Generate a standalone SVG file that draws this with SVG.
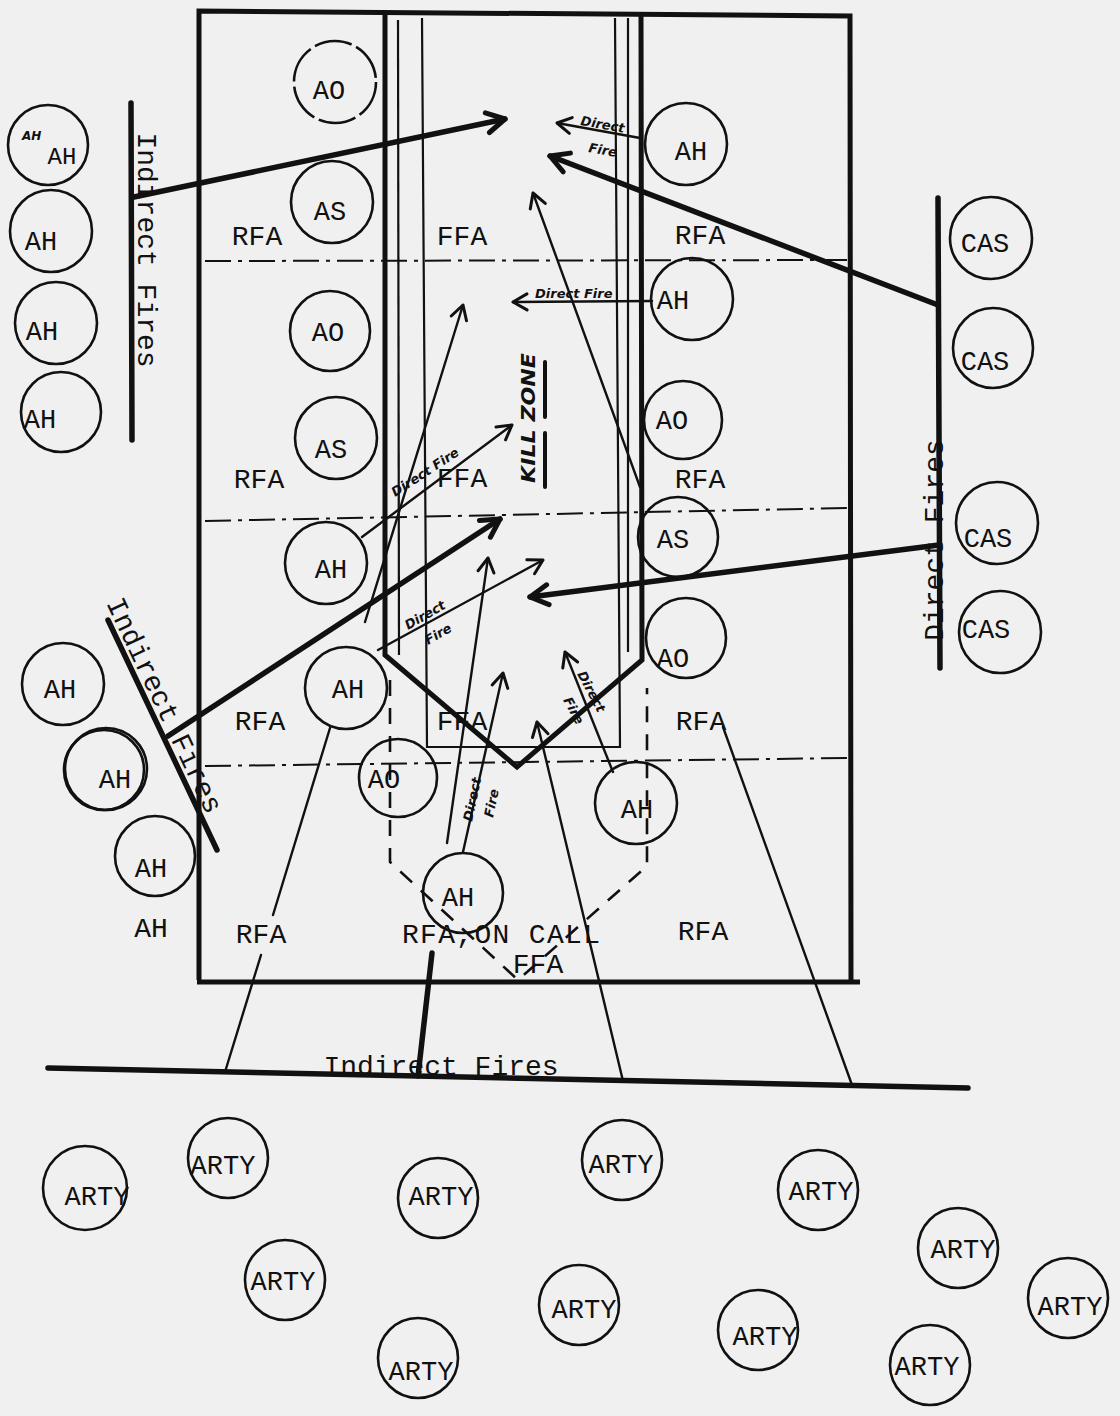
<svg xmlns="http://www.w3.org/2000/svg" width="1120" height="1416" viewBox="0 0 1120 1416">
<style>
.bg{fill:#f0f0f0}
.c{fill:none;stroke:#111;stroke-width:2.6}
.t{font-family:"Liberation Mono","DejaVu Sans Mono",monospace;font-size:27px;fill:#111;text-anchor:middle}
.lab{font-family:"Liberation Mono","DejaVu Sans Mono",monospace;font-size:28px;fill:#111}
.hw{font-family:"DejaVu Sans","Liberation Sans",sans-serif;font-size:13px;font-weight:bold;font-style:italic;fill:#111}
.thick{fill:none;stroke:#111;stroke-width:5.5;stroke-linecap:round;stroke-linejoin:round}
.frame{fill:none;stroke:#111;stroke-width:5;stroke-linejoin:miter}
.thin{fill:none;stroke:#111;stroke-width:2.2}
.arr{fill:none;stroke:#111;stroke-width:2.4;stroke-linecap:round}
.dd{fill:none;stroke:#111;stroke-width:2;stroke-dasharray:26 7 4 7}
.dv{fill:none;stroke:#111;stroke-width:2.6;stroke-dasharray:16 12}
</style>
<defs>
<marker id="big" markerUnits="userSpaceOnUse" markerWidth="26" markerHeight="26" viewBox="0 0 26 26" refX="23" refY="13" orient="auto">
<path d="M5,3 L23,13 L5,23" fill="none" stroke="#111" stroke-width="5" stroke-linecap="round" stroke-linejoin="round"/>
</marker>
<marker id="small" markerUnits="userSpaceOnUse" markerWidth="20" markerHeight="20" viewBox="0 0 20 20" refX="18" refY="10" orient="auto">
<path d="M4,2 L18,10 L4,18" fill="none" stroke="#111" stroke-width="3" stroke-linecap="round" stroke-linejoin="round"/>
</marker>
</defs>
<rect class="bg" x="0" y="0" width="1120" height="1416"/>

<g id="frame">
<polyline class="frame" points="199,980 199,11 850,16 851,982"/>
<line class="frame" x1="197" y1="982" x2="860" y2="982"/>
<polyline class="frame" points="385,12 385,655 517,767 642,660 641,15"/>
<line class="thin" x1="398" y1="20" x2="399" y2="655"/>
<polyline class="thin" points="422,18 427,747 620,747 615,18"/>
<line class="thin" x1="628" y1="18" x2="628" y2="652"/>
<line class="dd" x1="205" y1="261" x2="848" y2="260"/>
<line class="dd" x1="205" y1="521" x2="848" y2="508"/>
<line class="dd" x1="205" y1="766" x2="850" y2="758"/>
<polyline class="dv" points="390,680 390,862 518,980 647,866 647,688"/>
</g>

<g id="connectors">
<line class="thick" x1="131" y1="103" x2="132" y2="440"/>
<line class="thick" x1="938" y1="198" x2="940" y2="668"/>
<line class="thick" x1="108" y1="620" x2="217" y2="850"/>
<line class="thick" x1="48" y1="1068" x2="968" y2="1088"/>
<line class="thick" x1="134" y1="197" x2="505" y2="119" marker-end="url(#big)"/>
<line class="thick" x1="938" y1="305" x2="550" y2="156" marker-end="url(#big)"/>
<line class="thick" x1="939" y1="545" x2="530" y2="597" marker-end="url(#big)"/>
<line class="thick" x1="168" y1="736" x2="500" y2="519" marker-end="url(#big)"/>
<line class="thick" x1="418" y1="1076" x2="432" y2="953"/>
<line class="arr" x1="225" y1="1072" x2="261" y2="955"/>
<line class="arr" x1="273" y1="915" x2="330" y2="728"/>
<line class="arr" x1="623" y1="1081" x2="537" y2="722" marker-end="url(#small)"/>
<line class="arr" x1="852" y1="1085" x2="723" y2="727"/>
<line class="arr" x1="640" y1="138" x2="557" y2="123" marker-end="url(#small)"/>
<line class="arr" x1="652" y1="301" x2="513" y2="302" marker-end="url(#small)"/>
<line class="arr" x1="640" y1="487" x2="533" y2="193" marker-end="url(#small)"/>
<line class="arr" x1="362" y1="537" x2="512" y2="425" marker-end="url(#small)"/>
<line class="arr" x1="365" y1="622" x2="463" y2="305" marker-end="url(#small)"/>
<line class="arr" x1="378" y1="650" x2="543" y2="560" marker-end="url(#small)"/>
<line class="arr" x1="447" y1="843" x2="488" y2="558" marker-end="url(#small)"/>
<line class="arr" x1="463" y1="852" x2="503" y2="673" marker-end="url(#small)"/>
<line class="arr" x1="613" y1="772" x2="565" y2="652" marker-end="url(#small)"/>
<line class="thick" x1="545" y1="362" x2="545" y2="417" style="stroke-width:4"/>
<line class="thick" x1="545" y1="433" x2="545" y2="487" style="stroke-width:4"/>
</g>

<g id="labels">
<text class="lab" x="138" y="250" text-anchor="middle" transform="rotate(90 138 250)">Indirect Fires</text>
<text class="lab" x="943" y="540" text-anchor="middle" transform="rotate(-90 943 540)">Direct Fires</text>
<text class="lab" x="106" y="603" transform="rotate(64.6 106 603)">Indirect Fires</text>
<text class="lab" x="441" y="1075" text-anchor="middle">Indirect Fires</text>
<text class="lab" x="257" y="245" text-anchor="middle">RFA</text>
<text class="lab" x="462" y="245" text-anchor="middle">FFA</text>
<text class="lab" x="700" y="244" text-anchor="middle">RFA</text>
<text class="lab" x="259" y="488" text-anchor="middle">RFA</text>
<text class="lab" x="462" y="487" text-anchor="middle">FFA</text>
<text class="lab" x="700" y="488" text-anchor="middle">RFA</text>
<text class="lab" x="260" y="730" text-anchor="middle">RFA</text>
<text class="lab" x="462" y="730" text-anchor="middle">FFA</text>
<text class="lab" x="701" y="730" text-anchor="middle">RFA</text>
<text class="lab" x="261" y="943" text-anchor="middle">RFA</text>
<text class="lab" x="402" y="943" textLength="198" lengthAdjust="spacing">RFA,ON CALL</text>
<text class="lab" x="538" y="973" text-anchor="middle">FFA</text>
<text class="lab" x="703" y="940" text-anchor="middle">RFA</text>
<text class="lab" x="151" y="937" text-anchor="middle">AH</text>
<text class="hw" x="580" y="125" transform="rotate(10 580 125)">Direct</text>
<text class="hw" x="588" y="152" transform="rotate(10 588 152)">Fire</text>
<text class="hw" x="535" y="298">Direct Fire</text>
<text class="hw" x="395" y="497" transform="rotate(-33 395 497)">Direct Fire</text>
<text class="hw" x="408" y="630" transform="rotate(-30 408 630)">Direct</text>
<text class="hw" x="428" y="645" transform="rotate(-30 428 645)">Fire</text>
<text class="hw" x="472" y="822" transform="rotate(-78 472 822)">Direct</text>
<text class="hw" x="493" y="818" transform="rotate(-78 493 818)">Fire</text>
<text class="hw" x="577" y="674" transform="rotate(62 577 674)">Direct</text>
<text class="hw" x="563" y="700" transform="rotate(62 563 700)">Fire</text>
<text class="hw" x="535" y="483" transform="rotate(-90 535 483)" style="font-size:20px" textLength="130" lengthAdjust="spacingAndGlyphs">KILL ZONE</text>
</g>

<g id="ah-l1"><circle class="c" cx="48" cy="145" r="40"/><text class="t" x="62" y="164" style="font-size:24px">AH</text><text class="hw" x="22" y="140" style="font-size:12px">AH</text></g>
<g id="ah-l2"><circle class="c" cx="51" cy="231" r="41"/><text class="t" x="41" y="250">AH</text></g>
<g id="ah-l3"><circle class="c" cx="56" cy="323" r="41"/><text class="t" x="42" y="340">AH</text></g>
<g id="ah-l4"><circle class="c" cx="61" cy="412" r="40"/><text class="t" x="40" y="428">AH</text></g>
<g id="ah-l5"><circle class="c" cx="63" cy="684" r="41"/><text class="t" x="60" y="698">AH</text></g>
<g id="ah-l6"><circle class="c" cx="106" cy="769" r="41"/><circle class="c" cx="104" cy="770" r="40"/><text class="t" x="115" y="788">AH</text></g>
<g id="ah-l7"><circle class="c" cx="155" cy="856" r="40"/><text class="t" x="151" y="877">AH</text></g>

<g id="ao-1"><circle class="c" cx="335" cy="82" r="41" style="stroke-dasharray:38 5"/><text class="t" x="329" y="99">AO</text></g>
<g id="as-1"><circle class="c" cx="332" cy="202" r="41"/><text class="t" x="330" y="220">AS</text></g>
<g id="ao-2"><circle class="c" cx="330" cy="331" r="40"/><text class="t" x="328" y="341">AO</text></g>
<g id="as-2"><circle class="c" cx="336" cy="438" r="41"/><text class="t" x="331" y="458">AS</text></g>
<g id="ah-1"><circle class="c" cx="326" cy="563" r="41"/><text class="t" x="331" y="578">AH</text></g>
<g id="ah-2"><circle class="c" cx="346" cy="688" r="41"/><text class="t" x="348" y="698">AH</text></g>
<g id="ao-3"><circle class="c" cx="398" cy="778" r="39"/><text class="t" x="384" y="788">AO</text></g>
<g id="ah-3"><circle class="c" cx="463" cy="893" r="40"/><text class="t" x="458" y="906">AH</text></g>
<g id="ah-4"><circle class="c" cx="636" cy="803" r="41"/><text class="t" x="637" y="818">AH</text></g>

<g id="ah-r1"><circle class="c" cx="686" cy="144" r="41"/><text class="t" x="691" y="160">AH</text></g>
<g id="ah-r2"><circle class="c" cx="692" cy="299" r="41"/><text class="t" x="673" y="309">AH</text></g>
<g id="ao-r1"><circle class="c" cx="683" cy="420" r="39"/><text class="t" x="672" y="429">AO</text></g>
<g id="as-r1"><circle class="c" cx="678" cy="537" r="40"/><text class="t" x="673" y="548">AS</text></g>
<g id="ao-r2"><circle class="c" cx="686" cy="638" r="40"/><text class="t" x="673" y="667">AO</text></g>

<g id="cas-1"><circle class="c" cx="991" cy="238" r="41"/><text class="t" x="985" y="252">CAS</text></g>
<g id="cas-2"><circle class="c" cx="993" cy="348" r="40"/><text class="t" x="985" y="370">CAS</text></g>
<g id="cas-3"><circle class="c" cx="997" cy="523" r="41"/><text class="t" x="988" y="547">CAS</text></g>
<g id="cas-4"><circle class="c" cx="1000" cy="632" r="41"/><text class="t" x="986" y="638">CAS</text></g>

<g id="arty-1"><circle class="c" cx="85" cy="1188" r="42"/><text class="t" x="97" y="1205">ARTY</text></g>
<g id="arty-2"><circle class="c" cx="228" cy="1158" r="40"/><text class="t" x="223" y="1174">ARTY</text></g>
<g id="arty-3"><circle class="c" cx="438" cy="1198" r="40"/><text class="t" x="441" y="1205">ARTY</text></g>
<g id="arty-4"><circle class="c" cx="622" cy="1160" r="40"/><text class="t" x="621" y="1173">ARTY</text></g>
<g id="arty-5"><circle class="c" cx="818" cy="1190" r="40"/><text class="t" x="821" y="1200">ARTY</text></g>
<g id="arty-6"><circle class="c" cx="958" cy="1248" r="40"/><text class="t" x="963" y="1258">ARTY</text></g>
<g id="arty-7"><circle class="c" cx="285" cy="1280" r="40"/><text class="t" x="283" y="1290">ARTY</text></g>
<g id="arty-8"><circle class="c" cx="579" cy="1305" r="40"/><text class="t" x="584" y="1318">ARTY</text></g>
<g id="arty-9"><circle class="c" cx="758" cy="1330" r="40"/><text class="t" x="765" y="1345">ARTY</text></g>
<g id="arty-10"><circle class="c" cx="1068" cy="1298" r="40"/><text class="t" x="1070" y="1315">ARTY</text></g>
<g id="arty-11"><circle class="c" cx="418" cy="1358" r="40"/><text class="t" x="421" y="1380">ARTY</text></g>
<g id="arty-12"><circle class="c" cx="930" cy="1365" r="40"/><text class="t" x="927" y="1375">ARTY</text></g>
</svg>
